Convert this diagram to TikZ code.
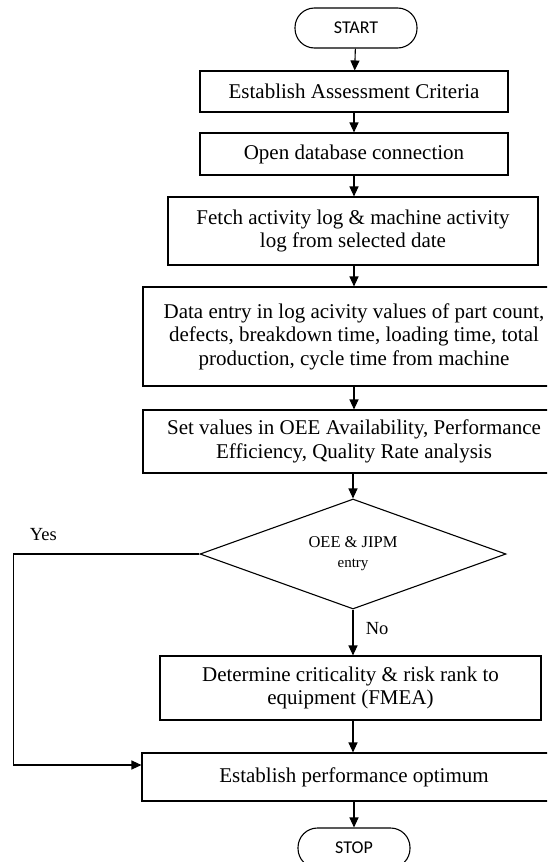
\documentclass[tikz,border=0pt]{standalone}
\usepackage{fontspec}
\setmainfont{Liberation Serif}
\newfontfamily\termfont{Carlito}
\usetikzlibrary{shapes.geometric,arrows.meta}

\begin{document}
\begin{tikzpicture}[x=1pt, y=-1pt, line width=1.1pt,
every node/.style = {align=center, font=\fontsize{21}{23.5}\selectfont},
procbox/.style = {shape=rectangle, draw, inner sep=0pt},
termbox/.style = {shape=rectangle, rounded corners=19.5pt, draw, inner sep=0pt,
	font=\termfont\fontsize{18}{20}\selectfont},
decbox/.style = {shape=diamond, draw, inner sep=0pt, aspect=2.78,
	minimum width=306pt, minimum height=110pt},
flow/.style = {-{Triangle[width=9pt,length=10pt]}}]
\useasboundingbox (0,0) rectangle (547,862);
\clip (0,0) rectangle (547,862);

\node[termbox, minimum width=122pt, minimum height=40pt] (start) at (356,28) {START};
\node[procbox, minimum width=308pt, minimum height=41pt] (crit) at (354,91.5) {Establish Assessment Criteria};
\node[procbox, minimum width=308pt, minimum height=42pt] (db) at (354,154) {Open database connection};
\node[procbox, minimum width=370pt, minimum height=68pt] (fetch) at (353,231)
	{Fetch activity log \& machine activity\\log from selected date};
\node[procbox, minimum width=422pt, minimum height=99pt] (entry) at (354,336.5)
	{Data entry in log acivity values of part count,\\defects, breakdown time, loading time, total\\production, cycle time from machine};
\node[procbox, minimum width=422pt, minimum height=63pt] (oee) at (354,441.5)
	{Set values in OEE Availability, Performance\\Efficiency, Quality Rate analysis};
\node[decbox, font=\fontsize{16.5}{20}\selectfont] (dec) at (353,554)
	{OEE \& JIPM\\{\fontsize{15}{20}\selectfont entry}};
\node[procbox, minimum width=381pt, minimum height=64pt] (fmea) at (350.5,688)
	{Determine criticality \& risk rank to\\equipment (FMEA)};
\node[procbox, minimum width=424pt, minimum height=48pt] (optim) at (354,777)
	{Establish performance optimum};
\node[termbox, minimum width=112pt, minimum height=40pt] (stop) at (354,848) {STOP};

\node[anchor=west, font=\fontsize{18.5}{20}\selectfont] (yes) at (26,535) {Yes};
\node[anchor=west, font=\fontsize{18.5}{20}\selectfont] (no) at (362,629) {No};

\draw[flow] (start) -- (crit);
\draw[flow] (crit) -- (db);
\draw[flow] (db) -- (fetch.north -| db);
\draw[flow] (fetch.south -| db) -- (entry.north -| db);
\draw[flow] (entry) -- (oee);
\draw[flow] (oee.south -| dec) -- (dec);
\draw[flow] (dec) -- (fmea.north -| dec);
\draw[flow] (fmea.south -| dec) -- (optim.north -| dec);
\draw[flow] (optim.south -| stop) -- (stop);
\draw[flow] (dec.west) -- ++(-186,0) |- ([yshift=12pt]optim.west);
\end{tikzpicture}
\end{document}
